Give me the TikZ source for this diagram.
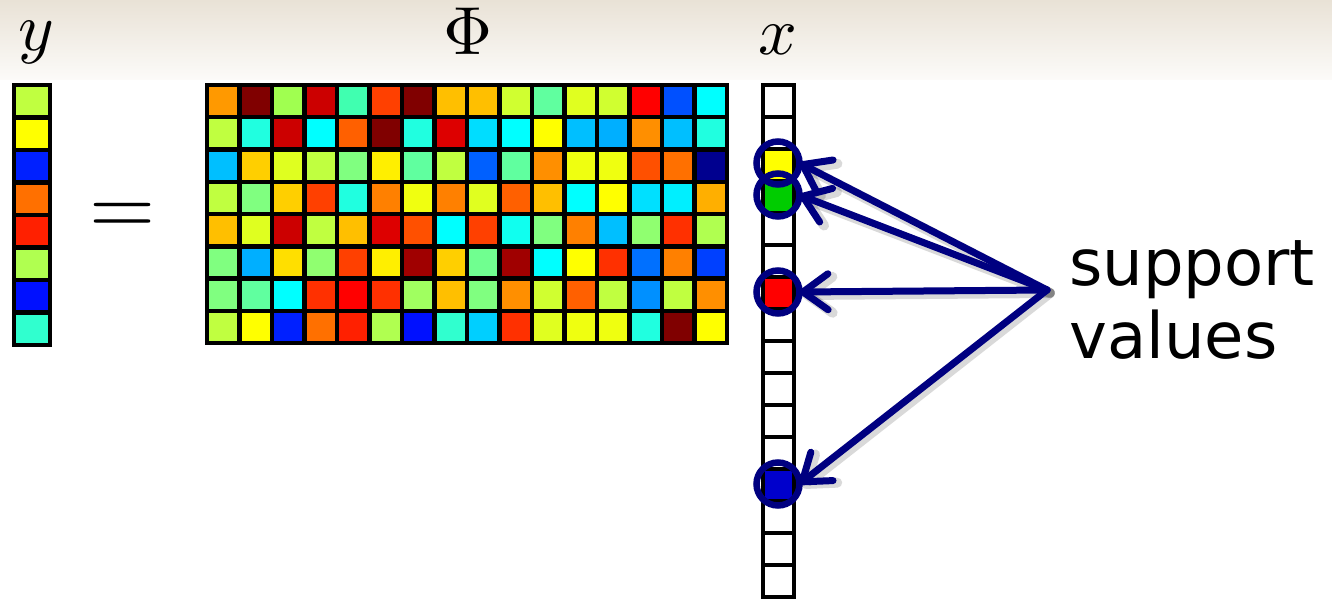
\documentclass[tikz,border=0pt]{standalone}
\usepackage{fontspec}
\newfontfamily\dejavu{DejaVu Sans}
\usetikzlibrary{arrows.meta}
\definecolor{navy}{HTML}{000080}
\definecolor{bandtop}{HTML}{E9E2D6}
\definecolor{bandbot}{HTML}{FCFBF9}
\begin{document}
\begin{tikzpicture}[x=1pt,y=-1pt,
  cell/.style={draw=black,line width=4.5pt},
  mathlab/.style={inner sep=0pt},
  circ/.style={circle,draw=navy,line width=6.5pt,minimum size=43pt,inner sep=0pt,outer sep=0pt},
  arr/.style={draw=navy,line width=7pt,line cap=round,-{Straight Barb[length=25pt,width=36pt,round]}},
  shad/.style={draw=black,opacity=0.15,line width=10pt,line cap=round,-{Straight Barb[length=25pt,width=36pt,round]},transform canvas={shift={(3pt,-3pt)}}},
  lab/.style={inner sep=0pt,font=\dejavu\fontsize{64}{64}\selectfont}]

\useasboundingbox (0,0) rectangle (1332,599);
\fill[white] (0,0) rectangle (1332,599);
\shade[top color=bandtop,bottom color=bandbot] (0,0) rectangle (1332,80);

% matrix Phi
\foreach \row [count=\r] in {
 {FF9900,800000,A0FF50,CC0000,40FFB0,FF4000,800000,FFBF00,FFBF00,D0FF30,60FF9F,E0FF20,D0FF30,FF0000,0050FF,00FFFF},
 {C0FF40,20FFE0,CC0000,00FFFF,FF6000,800000,20FFE0,DD0000,00DDFF,00FFFF,FFFF00,00BFFF,00AFFF,FF8F00,00BFFF,20FFE0},
 {00BFFF,FFCF00,DFFF20,C0FF40,80FF80,FFEF00,60FF9F,C0FF40,0060FF,60FF9F,FF8F00,EFFF10,EFFF10,FF5000,FF7000,00008F},
 {C0FF40,80FF80,FFCF00,FF4000,20FFE0,FF8000,F0FF10,FF8000,E0FF20,FF6000,FFBF00,00FFFF,FFFF00,00E0FF,00EFFF,FFAF00},
 {FFBF00,DFFF20,CC0000,C0FF40,FFBF00,DD0000,FF5000,00FFFF,FF4000,10FFEF,80FF80,FF8000,00BFFF,90FF70,FF3000,B0FF50},
 {80FF80,00AFFF,FFDF00,90FF70,FF4000,FFEF00,A00000,FFCF00,70FF90,A00000,00FFFF,FFFF00,FF3000,0070FF,FF8000,0040FF},
 {80FF80,60FF9F,00FFFF,FF3000,FF0000,FF3000,A0FF60,FFBF00,80FF80,FF8F00,D0FF30,FF6000,C0FF40,0090FF,C0FF40,FF8F00},
 {C0FF40,FFFF00,0020FF,FF7000,FF2000,B0FF50,0010FF,30FFCF,00CFFF,FF3000,E0FF20,EFFF10,EFFF10,20FFE0,800000,FFFF00}} {
  \foreach \c [count=\k] in \row {
    \edef\tmpdef{\noexpand\definecolor{cc}{HTML}{\c}}\tmpdef
    \draw[cell,fill=cc] ({207+(\k-1)*32.5},{85+(\r-1)*32.25}) rectangle ++(32.5,32.25);
  }
}

% vector y
\foreach \c [count=\k] in {C0FF40,FFFF00,0020FF,FF7000,FF2000,B0FF50,0010FF,30FFCF} {
  \edef\tmpdef{\noexpand\definecolor{cc}{HTML}{\c}}\tmpdef
  \draw[cell,fill=cc] (14,{85+(\k-1)*32.5}) rectangle ++(36,32.5);
}

% vector x
\foreach \c [count=\k] in {FFFFFF,FFFFFF,FFFF00,00CC00,FFFFFF,FFFFFF,FF0000,FFFFFF,FFFFFF,FFFFFF,FFFFFF,FFFFFF,0000CC,FFFFFF,FFFFFF,FFFFFF} {
  \edef\tmpdef{\noexpand\definecolor{cc}{HTML}{\c}}\tmpdef
  \draw[cell,fill=cc] (763,{85+(\k-1)*32}) rectangle ++(31,32);
}

% labels
\node[mathlab,anchor=base] (ylab) at (36,51) {\scalebox{6.8}{$y$}};
\node[mathlab,anchor=base] (philab) at (468,55) {\scalebox{6.8}{$\Phi$}};
\node[mathlab,anchor=base] (xlab) at (778,55) {\scalebox{6.8}{$x$}};
\node[mathlab,anchor=base] (eq) at (123,234) {\scalebox{8.5}{$=$}};

% circles
\node[circ] (c1) at (778,163) {};
\node[circ] (c2) at (778,195) {};
\node[circ] (c3) at (778,292) {};
\node[circ] (c4) at (778,484) {};

\coordinate (apex) at (1047,290);
\foreach \t in {c1,c2,c3,c4} \draw[shad] (apex) -- (\t.east);
\foreach \t in {c1,c2,c3,c4} \draw[arr] (apex) -- (\t.east);

\node[lab,anchor=base west] (sup1) at (1069,285) {support};
\node[lab,anchor=base west] (sup2) at (1069,358) {values};
\end{tikzpicture}
\end{document}
